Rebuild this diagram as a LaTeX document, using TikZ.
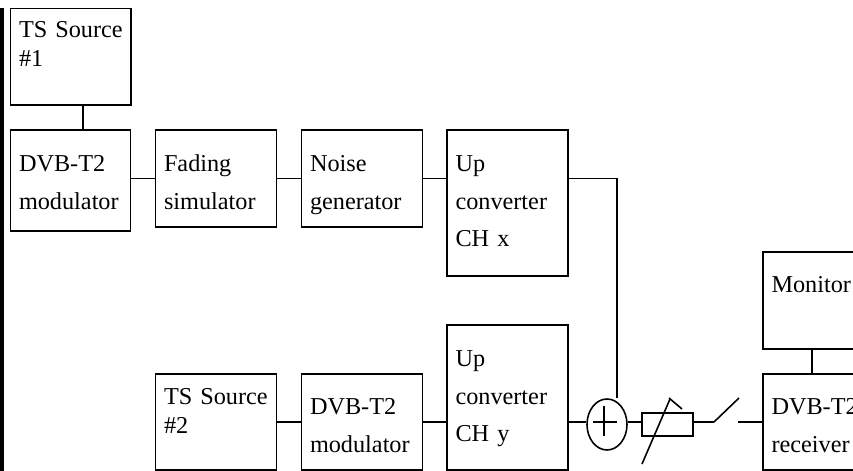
\documentclass[tikz,border=0pt]{standalone}
\usepackage{fontspec}
\setmainfont[WordSpace=0.8]{Liberation Serif}
\usetikzlibrary{positioning,shapes.geometric}

\tikzset{
  block/.style n args={3}{draw, anchor=north west, outer sep=0pt, inner xsep=0.17cm, inner ysep=0pt,
    font=\fontsize{13.8}{21.3}\selectfont, align=left,
    text width=#1cm-0.34cm, text height=#2cm, text depth=#3cm-#2cm},
  tight/.style={font=\fontsize{13.8}{16.5}\selectfont},
  wire/.style={line width=1pt}
}

\begin{document}
\begin{tikzpicture}[line width=0.9pt]
  \useasboundingbox (0,0) rectangle (17.06,9.42);
  % page edge
  \fill (0,0) rectangle (0.07,9.26);

  % upper chain
  \node[block={2.41}{0.59}{1.93}, tight] (tsa) at (0.21,9.25) {\mbox{TS Source}\\\#1};
  \node[block={2.40}{0.84}{2.02}] (moda) at (0.21,6.82) {DVB-T2\\modulator};
  \node[block={2.42}{0.84}{1.94}] (fading) at (3.11,6.82) {Fading\\simulator};
  \node[block={2.42}{0.84}{1.94}] (noise) at (6.03,6.82) {Noise\\generator};
  \node[block={2.42}{0.84}{2.92}] (upx) at (8.94,6.82) {Up\\converter\\CH x};

  % lower chain
  \node[block={2.42}{0.62}{1.92}, tight] (tsb) at (3.11,1.94) {\mbox{TS Source}\\\#2};
  \node[block={2.42}{0.82}{1.92}] (modb) at (6.03,1.94) {DVB-T2\\modulator};
  \node[block={2.42}{0.84}{2.90}] (upy) at (8.94,2.92) {Up\\converter\\CH y};

  % receiving end
  \node[block={1.96}{0.82}{1.94}] (monitor) at (15.26,4.38) {Monitor};
  \node[block={1.96}{0.82}{1.92}] (rx) at (15.26,1.94) {\mbox{DVB-T2}\\receiver};

  % adder and attenuator
  \node[draw, ellipse, minimum width=0.80cm, minimum height=1.02cm, inner sep=0pt] (adder) at (12.14,0.93) {};
  \node[draw, minimum width=1.02cm, minimum height=0.46cm, inner sep=0pt] (atten) at (13.35,0.93) {};
  \draw ([shift={(-0.28,0.05)}]adder.center) -- ++(0.48,0);
  \draw ([shift={(-0.06,0.37)}]adder.center) -- ++(0,-0.60);
  \coordinate (slida) at (12.84,0.14);
  \coordinate (slidb) at (13.40,1.44);
  \coordinate (capa) at (13.38,1.46);
  \coordinate (capb) at (13.64,1.24);
  \draw (slida) -- (slidb);
  \draw (capa) -- (capb);

  % switch
  \coordinate (swa) at (14.28,0.98);
  \coordinate (swb) at (14.78,1.46);
  \coordinate (swc) at (14.76,0.98);
  \draw (swa) -- (swb);

  % connectors
  \coordinate (tapa) at (1.66,7);
  \coordinate (tapb) at (12.34,1.46);
  \draw[wire] (tapa |- tsa.south) -- (tapa |- moda.north);
  \draw[wire] (fading.west -| moda.east) -- (fading.west);
  \draw[wire] (fading.east) -- (noise.west);
  \draw[wire] (noise.east) -- (noise.east -| upx.west);
  \draw[wire] (noise.east -| upx.east) -| (tapb);
  \draw[wire] (tsb.east) -- (modb.west);
  \draw[wire] (modb.east) -- (modb.east -| upy.west);
  \draw[wire] (modb.east -| upy.east) -- (modb.east -| adder.west);
  \draw[wire] (modb.east -| adder.east) -- (modb.east -| atten.west);
  \draw[wire] (modb.east -| atten.east) -- (swa);
  \draw[wire] (swc) -- (rx.west |- swc);
  \draw[wire] (monitor.south) -- (rx.north);
\end{tikzpicture}
\end{document}
